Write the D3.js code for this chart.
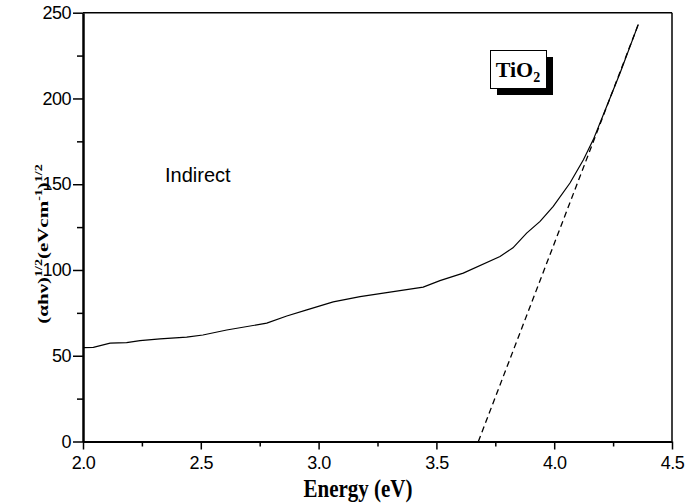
<!DOCTYPE html>
<html>
<head>
<meta charset="utf-8">
<script src="https://cdn.jsdelivr.net/npm/d3@7/dist/d3.min.js"></script>
<style>
  html, body { margin: 0; padding: 0; background: #fff; }
  svg { display: block; }
</style>
</head>
<body>
<svg id="chart" width="685" height="503"></svg>
<script>
// ---- data ----
const energy = [2.00, 2.044, 2.115, 2.185, 2.242, 2.327, 2.44, 2.509, 2.61, 2.78, 2.865, 2.95, 3.062, 3.176, 3.317, 3.444, 3.515, 3.614, 3.77, 3.825, 3.883, 3.94, 3.996, 4.067, 4.124, 4.166, 4.223, 4.28, 4.357];
const absorb = [54.7, 54.9, 57.3, 57.6, 58.8, 59.8, 60.8, 62.1, 65.0, 69.0, 73.2, 76.7, 81.4, 84.5, 87.4, 90.0, 93.8, 98.2, 107.9, 112.9, 121.5, 128.3, 137.1, 150.7, 164.3, 176.0, 195.5, 215.0, 243.2];
const fitE = [3.678, 4.357];
const fitV = [0, 243.2];
const xTicks = [2.0, 2.5, 3.0, 3.5, 4.0, 4.5];
const xMinor = [2.25, 2.75, 3.25, 3.75, 4.25];
const yTicks = [0, 50, 100, 150, 200, 250];
const yMinor = [25, 75, 125, 175, 225];

// ---- layout ----
const svg = d3.select("#chart");
const m = {left: 83, right: 13, top: 12.7, bottom: 61.5};
const W = 685, H = 503;
const x = d3.scaleLinear().domain([2.0, 4.5]).range([m.left, W - m.right]);
const y = d3.scaleLinear().domain([0, 250]).range([H - m.bottom, m.top]);

const tickFont = "'Liberation Sans', Arial, Helvetica, sans-serif";
const serif = "'Liberation Serif', 'Times New Roman', Times, serif";

// frame top/right
svg.append("line").attr("x1", x(2.0)).attr("x2", x(4.5)).attr("y1", y(250)).attr("y2", y(250))
  .attr("stroke", "#000").attr("stroke-width", 1.5);
svg.append("line").attr("x1", x(4.5)).attr("x2", x(4.5)).attr("y1", y(250)).attr("y2", y(0))
  .attr("stroke", "#000").attr("stroke-width", 1.5);

// x axis
const gx = svg.append("g").attr("transform", `translate(0,${y(0)})`)
  .call(d3.axisBottom(x).tickValues(xTicks).tickFormat(d3.format(".1f")).tickSize(8).tickSizeOuter(0).tickPadding(7));
gx.select(".domain").attr("stroke-width", 2);
gx.selectAll(".tick line").attr("stroke-width", 1.5);
gx.selectAll(".tick text").attr("font-family", tickFont).attr("font-size", 18).attr("fill", "#000").attr("letter-spacing", -0.5);
svg.append("g").attr("transform", `translate(0,${y(0)})`)
  .call(d3.axisBottom(x).tickValues(xMinor).tickSize(5).tickSizeOuter(0).tickFormat(""))
  .call(g => g.select(".domain").remove())
  .selectAll(".tick line").attr("stroke-width", 1.5);

// y axis
const gy = svg.append("g").attr("transform", `translate(${x(2.0)},0)`)
  .call(d3.axisLeft(y).tickValues(yTicks).tickSize(10).tickSizeOuter(0).tickPadding(2));
gy.select(".domain").attr("stroke-width", 2.5);
gy.selectAll(".tick line").attr("stroke-width", 1.5);
gy.selectAll(".tick text").attr("font-family", tickFont).attr("font-size", 18).attr("fill", "#000").attr("letter-spacing", -0.5);
svg.append("g").attr("transform", `translate(${x(2.0)},0)`)
  .call(d3.axisLeft(y).tickValues(yMinor).tickSize(6).tickSizeOuter(0).tickFormat(""))
  .call(g => g.select(".domain").remove())
  .selectAll(".tick line").attr("stroke-width", 1.5);

// data curve
const pts = energy.map((e, i) => [e, absorb[i]]);
svg.append("path").datum(pts)
  .attr("fill", "none").attr("stroke", "#000").attr("stroke-width", 1.2)
  .attr("d", d3.line().x(d => x(d[0])).y(d => y(d[1])));

// fit line (dashed)
const fit = fitE.map((e, i) => [e, fitV[i]]);
svg.append("path").datum(fit)
  .attr("fill", "none").attr("stroke", "#000").attr("stroke-width", 1.3)
  .attr("stroke-dasharray", "6,4")
  .attr("d", d3.line().x(d => x(d[0])).y(d => y(d[1])));

// x title
svg.append("text").attr("x", 358).attr("y", 497).attr("text-anchor", "middle")
  .attr("font-family", serif).attr("font-weight", "bold").attr("font-size", 25)
  .attr("textLength", 109).attr("lengthAdjust", "spacingAndGlyphs")
  .text("Energy (eV)");

// y title
const yt = svg.append("text")
  .attr("transform", "translate(47.5,244) scale(0.72,1) rotate(-90)")
  .attr("text-anchor", "middle")
  .attr("font-family", serif).attr("font-weight", "bold").attr("font-size", 21);
yt.append("tspan").text("(αhν)");
yt.append("tspan").attr("font-size", 14).attr("dy", -8).text("1/2");
yt.append("tspan").attr("dy", 8).text("(eVcm");
yt.append("tspan").attr("font-size", 14).attr("dy", -8).text("-1");
yt.append("tspan").attr("dy", 8).text(")");
yt.append("tspan").attr("font-size", 14).attr("dy", -8).text("1/2");

// Indirect label
svg.append("text").attr("x", 165).attr("y", 182)
  .attr("font-family", tickFont).attr("font-size", 20).text("Indirect");

// TiO2 box
svg.append("rect").attr("x", 497).attr("y", 57).attr("width", 56).attr("height", 38).attr("fill", "#000");
svg.append("rect").attr("x", 490.5).attr("y", 50.5).attr("width", 56).attr("height", 38)
  .attr("fill", "#fff").attr("stroke", "#000").attr("stroke-width", 1);
const tt = svg.append("text").attr("x", 518).attr("y", 77).attr("text-anchor", "middle")
  .attr("font-family", serif).attr("font-weight", "bold").attr("font-size", 22);
tt.append("tspan").text("TiO");
tt.append("tspan").attr("font-size", 14).attr("dy", 5).text("2");
</script>
</body>
</html>
